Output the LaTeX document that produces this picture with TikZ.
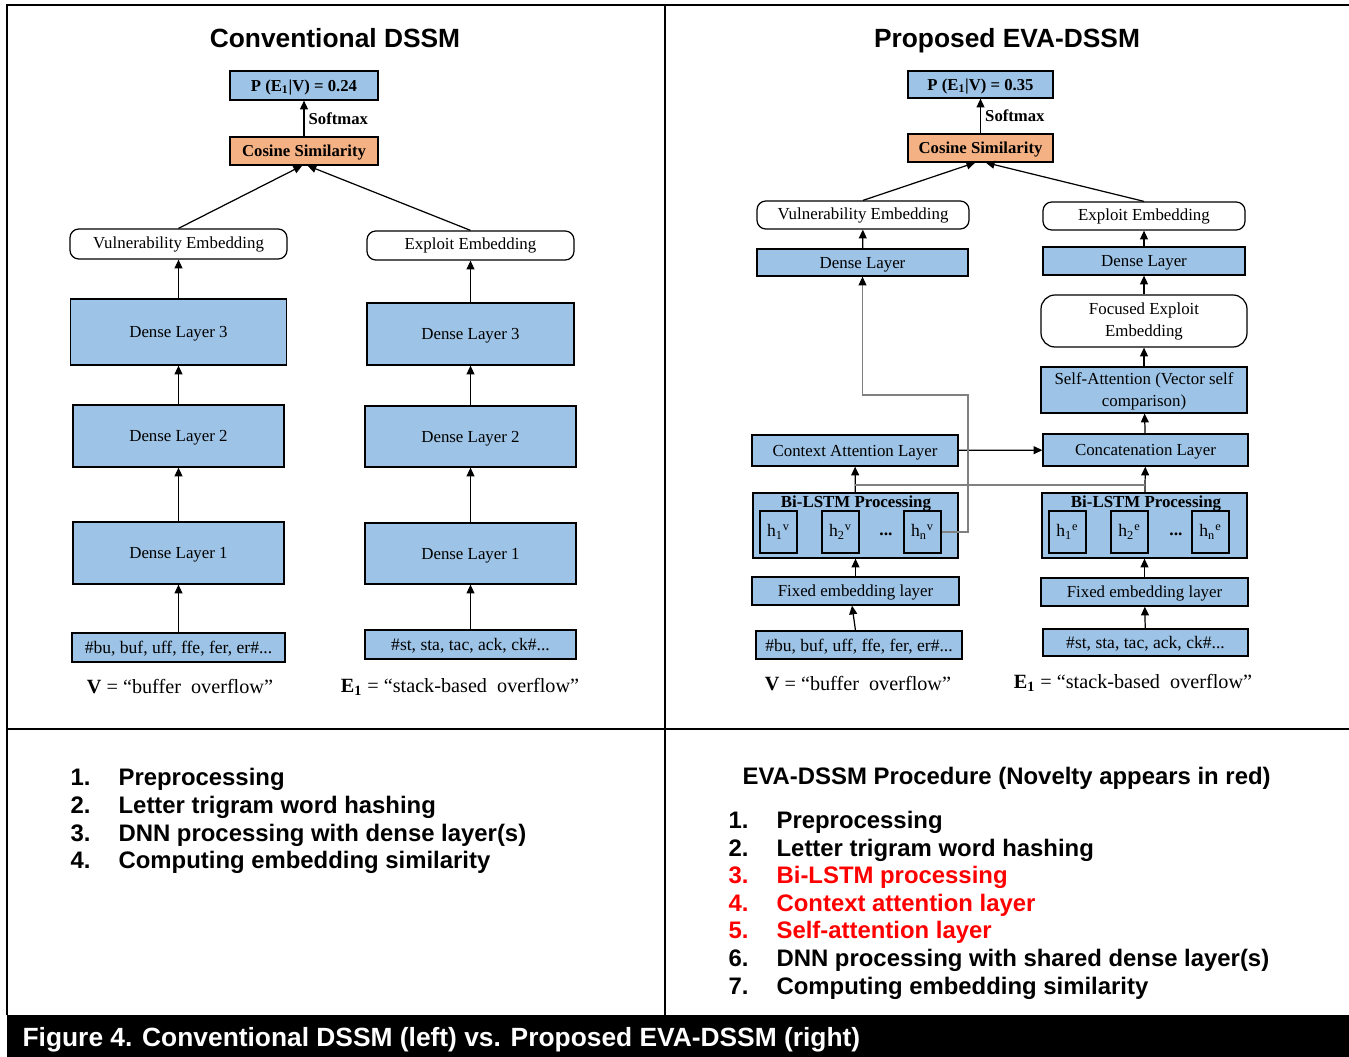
\documentclass[tikz,border=0pt]{standalone}
\usepackage{fontspec}
\setmainfont{Liberation Serif}
\setsansfont{Liberation Sans}
\usetikzlibrary{arrows.meta}
\definecolor{boxblue}{RGB}{157,195,230}
\definecolor{boxorange}{RGB}{244,177,131}
\definecolor{novred}{RGB}{255,0,0}

\begin{document}
\begin{tikzpicture}
      [x=0.02cm,y=-0.02cm,line width=0.7pt,
       sz/.style 2 args={minimum width=#1*0.02cm,minimum height=#2*0.02cm},
       layer/.style={draw,fill=boxblue,inner sep=1pt,align=center,text depth=0pt,font=\fontsize{9.6}{12.5}\selectfont},
       score/.style={layer,font=\bfseries\fontsize{9.5}{11}\selectfont},
       embed/.style={draw,fill=white,rounded corners=5pt,inner sep=1pt,align=center,font=\fontsize{9.6}{12.5}\selectfont},
       hbox/.style={draw,fill=boxblue,sz={37}{42},inner sep=0pt,font=\fontsize{10}{12}\selectfont},
       arr/.style={-{Triangle[length=5pt,width=4.5pt]}},
       title/.style={font=\sffamily\bfseries\fontsize{15}{18}\selectfont,anchor=base},
       item/.style={font=\sffamily\bfseries\fontsize{13.6}{16}\selectfont,anchor=base west,inner sep=0pt},
       word/.style={font=\fontsize{11.5}{14}\selectfont}]
        \useasboundingbox (0,0) rectangle (1349,1057);

        % frame
        \draw[line width=1.6pt] (7,1015) -- (7,5) -- (1349,5);
        \draw[line width=1.6pt] (665,5) -- (665,1015);
        \draw[line width=1.6pt] (7,729) -- (1349,729);
        \fill (7,1015) rectangle (1349,1057);

        % conventional DSSM
        \node[title] (t1) at (335,47.5) {Conventional DSSM};
        \node[score,sz={148}{29}] (pl) at (304,85.5) {P (E\textsubscript{1}|V) = 0.24};
        \node[score,fill=boxorange,sz={148}{28}] (csl) at (304,151) {Cosine Similarity};
        \node[embed,sz={217}{30}] (vel) at (178.5,244) {Vulnerability Embedding};
        \node[embed,sz={207}{29}] (eel) at (470.5,245.5) {Exploit Embedding};
        \node[layer,sz={216}{66}] (d3l) at (178.5,332) {Dense Layer 3};
        \node[layer,sz={207}{62}] (d3r) at (470.5,334) {Dense Layer 3};
        \node[layer,sz={211}{62}] (d2l) at (178.5,436) {Dense Layer 2};
        \node[layer,sz={211}{61}] (d2r) at (470.5,436.5) {Dense Layer 2};
        \node[layer,sz={211}{62}] (d1l) at (178.5,553) {Dense Layer 1};
        \node[layer,sz={211}{61}] (d1r) at (470.5,553.5) {Dense Layer 1};
        \node[layer,sz={213}{29},font=\fontsize{10}{12}\selectfont] (inl) at (178.5,647.5) {\#bu, buf, uff, ffe, fer, er\#...};
        \node[layer,sz={211}{29},font=\fontsize{10}{12}\selectfont] (inr) at (470.5,644.5) {\#st, sta, tac, ack, ck\#...};
        \node[word] (vl) at (180,687) {\textbf{V} = ``buffer\ \ overflow''};
        \node[word] (el) at (460,687) {\textbf{E\textsubscript{1}} = ``stack-based\ \ overflow''};

        \draw[arr] (inl) -- (d1l);
        \draw[arr] (d1l) -- (d2l);
        \draw[arr] (d2l) -- (d3l);
        \draw[arr] (d3l) -- (vel);
        \draw[arr] (inr) -- (d1r);
        \draw[arr] (d1r) -- (d2r);
        \draw[arr] (d2r) -- (d3r);
        \draw[arr] (d3r) -- (eel);
        \draw[arr] (vel.north) -- ([xshift=-1pt]csl.south);
        \draw[arr] (eel.north) -- ([xshift=2pt]csl.south);
        \draw[arr] (csl) -- node[right=-1pt,font=\bfseries\fontsize{9.5}{11}\selectfont] {Softmax} (pl);

        % proposed EVA-DSSM
        \node[title] (t2) at (1007,47.5) {Proposed EVA-DSSM};
        \node[score,sz={145}{27}] (pr) at (980.5,84.5) {P (E\textsubscript{1}|V) = 0.35};
        \node[score,fill=boxorange,sz={145}{28}] (csr) at (980.5,148) {Cosine Similarity};
        \node[embed,sz={212}{28}] (ver) at (863,215) {Vulnerability Embedding};
        \node[embed,sz={202}{28}] (eer) at (1144,216) {Exploit Embedding};
        \node[layer,sz={211}{27}] (dvr) at (862.5,262.5) {Dense Layer};
        \node[layer,sz={202}{28}] (der) at (1144,261) {Dense Layer};
        \node[embed,rounded corners=8pt,sz={206}{52}] (fee) at (1144,321) {Focused Exploit\\Embedding};
        \node[layer,sz={206}{46}] (sa) at (1144,390) {Self-Attention (Vector self\\comparison)};
        \node[layer,sz={206}{31}] (ca) at (855,450.5) {Context Attention Layer};
        \node[layer,sz={205}{32}] (cc) at (1145.5,450) {Concatenation Layer};
        \node[layer,sz={205}{65}] (bl) at (855.5,525.5) {};
        \node[layer,sz={205}{65}] (br) at (1144.5,525.5) {};
        \node[font=\bfseries\fontsize{9.6}{11}\selectfont] (btl) at (856,504) {Bi-LSTM Processing};
        \node[font=\bfseries\fontsize{9.6}{11}\selectfont] (btr) at (1146,504) {Bi-LSTM Processing};
        \node[hbox] (hv1) at (778.5,532) {h\textsubscript{1}\textsuperscript{v}};
        \node[hbox] (hv2) at (840.5,532) {h\textsubscript{2}\textsuperscript{v}};
        \node[hbox] (hvn) at (922.5,532) {h\textsubscript{n}\textsuperscript{v}};
        \node[font=\bfseries] (dv) at (886,534) {...};
        \node[hbox] (he1) at (1067.5,532) {h\textsubscript{1}\textsuperscript{e}};
        \node[hbox] (he2) at (1129.5,532) {h\textsubscript{2}\textsuperscript{e}};
        \node[hbox] (hen) at (1210.5,532) {h\textsubscript{n}\textsuperscript{e}};
        \node[font=\bfseries] (de) at (1176,534) {...};
        \node[layer,sz={207}{28}] (fl) at (855.5,591) {Fixed embedding layer};
        \node[layer,sz={207}{28}] (fr) at (1144.5,592) {Fixed embedding layer};
        \node[layer,sz={206}{28},font=\fontsize{10}{12}\selectfont] (il) at (859,645) {\#bu, buf, uff, ffe, fer, er\#...};
        \node[layer,sz={205}{27},font=\fontsize{10}{12}\selectfont] (ir) at (1145.5,642.5) {\#st, sta, tac, ack, ck\#...};
        \node[word] (vr) at (858,684) {\textbf{V} = ``buffer\ \ overflow''};
        \node[word] (er) at (1133,683) {\textbf{E\textsubscript{1}} = ``stack-based\ \ overflow''};
        \coordinate (gl) at (855,485);
        \coordinate (gr) at (1145,485);
        \coordinate (bend) at (968,395);

        \draw[arr] ([xshift=-2pt]il.north) -- ([xshift=-2pt]fl.south);
        \draw[arr] (ir) -- (fr);
        \draw[arr] (fl) -- (bl);
        \draw[arr] (fr) -- (br);
        \draw[arr] (bl) -- (ca);
        \draw[arr] (br) -- (cc);
        \draw[gray] (gl) -- (gr);
        \draw[arr] (ca) -- (cc);
        \draw[arr] (cc) -- (sa);
        \draw[arr] (sa) -- (fee);
        \draw[arr] (fee) -- (der);
        \draw[arr] (der) -- (eer);
        \draw[gray,-{Triangle[length=5pt,width=4.5pt,color=black]}] (hvn.east) -| (bend) -| (dvr.south);
        \draw[arr] (dvr) -- (ver);
        \draw[arr] (ver.north) -- ([xshift=-3pt]csr.south);
        \draw[arr] (eer.north) -- ([xshift=3pt]csr.south);
        \draw[arr] (csr) -- node[right=-1pt,font=\bfseries\fontsize{9.5}{11}\selectfont] {Softmax} (pr);

        % procedure lists
        \node[item] (n1) at (70,785.5) {1.};
        \node[item] (s1) at (118,785.5) {Preprocessing};
        \node[item] (n2) at (70,813.5) {2.};
        \node[item] (s2) at (118,813.5) {Letter trigram word hashing};
        \node[item] (n3) at (70,841.5) {3.};
        \node[item] (s3) at (118,841.5) {DNN processing with dense layer(s)};
        \node[item] (n4) at (70,868.5) {4.};
        \node[item] (s4) at (118,868.5) {Computing embedding similarity};

        \node[item] (hd) at (742,784.5) {EVA-DSSM Procedure (Novelty appears in red)};
        \node[item] (m1) at (728,828.5) {1.};
        \node[item] (r1) at (776,828.5) {Preprocessing};
        \node[item] (m2) at (728,856.5) {2.};
        \node[item] (r2) at (776,856.5) {Letter trigram word hashing};
        \node[item,novred] (m3) at (728,883.5) {3.};
        \node[item,novred] (r3) at (776,883.5) {Bi-LSTM processing};
        \node[item,novred] (m4) at (728,911.5) {4.};
        \node[item,novred] (r4) at (776,911.5) {Context attention layer};
        \node[item,novred] (m5) at (728,938.5) {5.};
        \node[item,novred] (r5) at (776,938.5) {Self-attention layer};
        \node[item] (m6) at (728,966.5) {6.};
        \node[item] (r6) at (776,966.5) {DNN processing with shared dense layer(s)};
        \node[item] (m7) at (728,994.5) {7.};
        \node[item] (r7) at (776,994.5) {Computing embedding similarity};

        \node[item,white,font=\sffamily\bfseries\fontsize{15}{18}\selectfont] (cap) at (22,1046.5) {Figure 4. Conventional DSSM (left) vs. Proposed EVA-DSSM (right)};

      \end{tikzpicture}
\end{document}
